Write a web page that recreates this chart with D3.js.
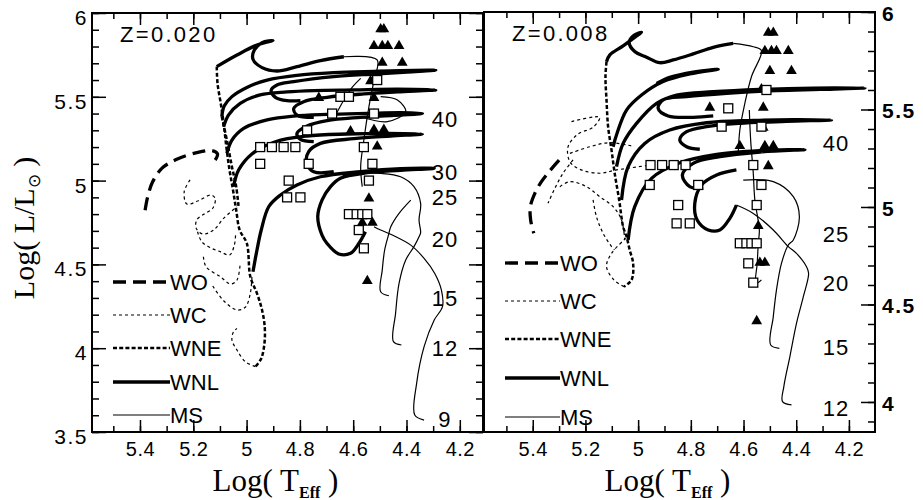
<!DOCTYPE html>
<html>
<head>
<meta charset="utf-8">
<script src="https://cdn.jsdelivr.net/npm/d3@7"></script>
<style>
  body { margin: 0; background: #fff; }
  svg { display: block; }
</style>
</head>
<body>
<div id="chart"></div>
<script>
// ---------- data (log Teff, log L/Lsun) ----------
const xTickLabels = [5.4, 5.2, 5.0, 4.8, 4.6, 4.4, 4.2];
const yTickLabelsLeft = [3.5, 4, 4.5, 5, 5.5, 6];
const yTickLabelsRight = [4, 4.5, 5, 5.5, 6];
const legendNames = ["WO", "WC", "WNE", "WNL", "MS"];

const massLabelsZ020 = ["40", "30", "25", "20", "15", "12", "9"];
const massLumZ020 = [5.37, 5.05, 4.90, 4.65, 4.30, 4.00, 3.58];
const massLabelsZ008 = ["40", "25", "20", "15", "12"];
const massLumZ008 = [5.33, 4.86, 4.61, 4.28, 3.97];

// Z = 0.020 tracks
const z020_WNL_1 = [[5.112,5.68],[5.036,5.749],[4.961,5.809],[4.901,5.835],[4.942,5.823],[4.971,5.779],[4.976,5.724],[4.942,5.674],[4.886,5.654],[4.811,5.68],[4.723,5.716],[4.635,5.739]];
const z020_MS_1 = [[4.635,5.739],[4.51,5.72],[4.522,5.60],[4.541,5.441],[4.56,5.242],[4.572,5.083],[4.566,4.964]];
const z020_WNE_1 = [[5.112,5.68],[5.109,5.58],[5.097,5.461],[5.086,5.342],[5.076,5.202],[5.064,5.063],[5.051,4.944],[5.039,4.825],[5.026,4.705],[4.999,4.625],[4.986,4.427],[4.961,4.327],[4.942,4.228],[4.932,4.128],[4.933,4.029],[4.945,3.939],[4.967,3.89]];
const z020_WC_1 = [[4.967,3.89],[5.005,3.92],[5.036,3.989],[5.055,4.049],[5.049,4.098],[5.036,4.118]];
const z020_WNE_2 = [[5.093,5.381],[5.074,5.242],[5.055,5.083],[5.039,4.964],[5.03,4.844]];
const z020_WNL_2 = [[5.093,5.381],[5.084,5.445],[5.055,5.501],[4.999,5.556],[4.923,5.60],[4.811,5.628],[4.673,5.644],[4.522,5.652],[4.372,5.658],[4.29,5.658],[4.397,5.648],[4.522,5.636],[4.673,5.62],[4.823,5.59],[4.886,5.57],[4.908,5.537],[4.892,5.497],[4.848,5.477],[4.798,5.477]];
const z020_WNL_3 = [[5.086,5.322],[5.068,5.391],[5.024,5.461],[4.949,5.511],[4.848,5.529],[4.748,5.537],[4.597,5.541],[4.434,5.545],[4.29,5.541],[4.434,5.529],[4.56,5.517],[4.698,5.497],[4.786,5.471],[4.823,5.431],[4.811,5.391],[4.748,5.377]];
const z020_WNL_4 = [[5.074,5.163],[5.055,5.242],[5.011,5.312],[4.923,5.362],[4.823,5.385],[4.698,5.395],[4.547,5.401],[4.422,5.405],[4.34,5.401],[4.447,5.389],[4.572,5.377],[4.698,5.358],[4.773,5.326],[4.811,5.282],[4.798,5.246],[4.748,5.232]];
const z020_WNL_5 = [[5.049,4.964],[5.03,5.063],[4.98,5.159],[4.892,5.232],[4.773,5.266],[4.622,5.278],[4.472,5.282],[4.34,5.278],[4.459,5.266],[4.597,5.25],[4.723,5.222],[4.767,5.173],[4.775,5.103],[4.748,5.053],[4.673,5.053]];
const z020_WNL_6 = [[4.976,4.456],[4.961,4.586],[4.945,4.705],[4.917,4.844],[4.873,4.914],[4.811,4.974],[4.723,5.023],[4.572,5.053],[4.422,5.071],[4.296,5.073],[4.422,5.061],[4.547,5.047],[4.648,5.014],[4.685,4.964],[4.717,4.884],[4.733,4.785],[4.717,4.675],[4.698,4.625],[4.654,4.562],[4.61,4.566],[4.579,4.625],[4.554,4.695]];
const z020_MS_2 = [[4.666,5.391],[4.635,5.481],[4.604,5.556],[4.572,5.61]];
const z020_MS_3 = [[4.572,5.381],[4.472,5.352],[4.403,5.411],[4.434,5.481],[4.497,5.501]];
const z020_MS_12 = [[4.419,4.019],[4.449,4.039],[4.441,4.208],[4.428,4.387],[4.403,4.526],[4.372,4.606],[4.353,4.665],[4.347,4.69],[4.353,4.765],[4.347,4.864],[4.372,4.964],[4.422,5.023],[4.497,5.043],[4.572,5.043]];
const z020_MS_9 = [[4.334,3.571],[4.369,3.601],[4.362,3.79],[4.334,4.009],[4.296,4.168],[4.265,4.248],[4.269,4.347],[4.294,4.446],[4.334,4.536],[4.384,4.615],[4.453,4.675],[4.497,4.705],[4.522,4.725]];
const z020_MS_15 = [[4.466,4.313],[4.497,4.337],[4.491,4.466],[4.482,4.586],[4.466,4.685],[4.459,4.725],[4.428,4.805],[4.384,4.884]];
const z020_WC_2 = [[5.212,5.004],[5.234,4.934],[5.224,4.86],[5.181,4.88],[5.134,4.914],[5.118,4.894],[5.127,4.835],[5.159,4.801],[5.187,4.765],[5.189,4.715],[5.164,4.681],[5.124,4.705],[5.086,4.775],[5.036,4.844]];
const z020_WC_3 = [[5.184,4.695],[5.168,4.635],[5.131,4.596],[5.099,4.576],[5.064,4.556],[5.046,4.615],[5.041,4.685]];
const z020_WC_4 = [[5.162,4.546],[5.152,4.486],[5.099,4.427],[5.059,4.383],[5.036,4.407],[5.024,4.506]];
const z020_WC_5 = [[5.127,4.371],[5.086,4.283],[5.036,4.228],[5.005,4.244],[4.986,4.327],[4.98,4.427]];
const z020_WO = [[5.118,5.123],[5.109,5.159],[5.13,5.179],[5.187,5.167],[5.262,5.127],[5.318,5.073],[5.352,4.994],[5.371,4.904],[5.381,4.821]];

// Z = 0.020 observed stars
const triZ020T = [4.497,4.485,4.522,4.491,4.47,4.428,4.491,4.416,4.535,4.729,4.522,4.522,4.61,4.522,4.485,4.51,4.541,4.566,4.528,4.547];
const triZ020L = [5.909,5.909,5.809,5.809,5.809,5.809,5.71,5.71,5.60,5.50,5.50,5.40,5.30,5.31,5.31,5.21,4.90,4.755,4.755,4.407];
const sqZ020T = [4.51,4.648,4.616,4.679,4.522,4.773,4.949,4.905,4.861,4.817,4.56,4.949,4.767,4.528,4.842,4.541,4.848,4.798,4.616,4.587,4.566,4.547,4.579,4.56];
const sqZ020L = [5.60,5.50,5.50,5.40,5.40,5.30,5.20,5.20,5.20,5.20,5.20,5.10,5.10,5.10,5.00,5.00,4.90,4.90,4.80,4.80,4.80,4.80,4.705,4.596];

// Z = 0.008 tracks
const z008_WNL_1 = [[5.12,5.745],[5.108,5.779],[5.057,5.826],[5.013,5.87],[4.987,5.896],[5.019,5.877],[5.034,5.843],[5.013,5.797],[4.968,5.768],[4.918,5.74],[4.867,5.754],[4.791,5.785],[4.715,5.819],[4.639,5.839]];
const z008_MS_1 = [[4.639,5.839],[4.563,5.822],[4.532,5.802],[4.57,5.668],[4.595,5.532],[4.614,5.395],[4.62,5.275]];
const z008_WNE_1 = [[5.12,5.745],[5.124,5.668],[5.12,5.549],[5.114,5.412],[5.101,5.292],[5.089,5.173],[5.072,5.036],[5.057,4.899],[5.044,4.848],[5.032,4.779],[5.019,4.711],[5.025,4.626],[5.054,4.591]];
const z008_WC_1 = [[5.054,4.591],[5.092,4.626],[5.12,4.694],[5.101,4.762],[5.047,4.839]];
const z008_WNL_2 = [[5.095,5.309],[5.08,5.378],[5.044,5.497],[4.987,5.574],[4.905,5.643],[4.804,5.682],[4.696,5.706],[4.791,5.692],[4.88,5.665],[4.93,5.634]];
const z008_WNL_3 = [[5.082,5.207],[5.057,5.326],[5.006,5.429],[4.93,5.532],[4.854,5.574],[4.715,5.591],[4.538,5.603],[4.335,5.61],[4.139,5.61],[4.31,5.603],[4.475,5.597],[4.664,5.583],[4.816,5.566],[4.905,5.549],[4.924,5.506],[4.886,5.467],[4.791,5.46],[4.715,5.467]];
const z008_WNL_4 = [[5.063,5.036],[5.038,5.207],[4.975,5.326],[4.88,5.395],[4.74,5.432],[4.563,5.444],[4.411,5.448],[4.266,5.446],[4.437,5.439],[4.614,5.429],[4.74,5.412],[4.816,5.386],[4.842,5.344],[4.816,5.309],[4.766,5.296]];
const z008_WNL_5 = [[5.038,4.831],[5.013,5.002],[4.949,5.147],[4.842,5.227],[4.702,5.27],[4.538,5.289],[4.367,5.294],[4.538,5.282],[4.69,5.258],[4.791,5.224],[4.832,5.164],[4.804,5.104],[4.753,5.096]];
const z008_WNL_6 = [[4.627,5.19],[4.702,5.164],[4.759,5.113],[4.785,5.019],[4.776,4.933],[4.734,4.882],[4.69,4.882],[4.652,4.942],[4.627,5.01]];
const z008_MS_12 = [[4.627,5.01],[4.563,4.967],[4.487,4.882],[4.43,4.797],[4.399,4.762],[4.361,4.694],[4.353,4.66],[4.373,4.54],[4.399,4.403],[4.424,4.233],[4.447,4.079],[4.452,4.002],[4.418,3.985]];
const z008_MS_15 = [[4.601,5.138],[4.487,5.13],[4.411,5.053],[4.388,4.95],[4.411,4.831],[4.43,4.805],[4.456,4.711],[4.475,4.574],[4.487,4.438],[4.497,4.292],[4.464,4.275]];
const z008_MS_20 = [[4.532,4.626],[4.553,4.608],[4.548,4.711],[4.544,4.814],[4.54,4.882],[4.557,5.036],[4.563,5.173],[4.573,5.344],[4.578,5.497]];
const z008_WC_2 = [[5.253,5.438],[5.146,5.46],[5.171,5.409],[5.228,5.374],[5.266,5.309],[5.259,5.232],[5.221,5.193],[5.146,5.173],[5.082,5.19],[4.968,5.212]];
const z008_WC_3 = [[5.259,5.275],[5.183,5.309],[5.108,5.33],[5.025,5.313]];
const z008_WC_4 = [[5.297,5.104],[5.259,5.13],[5.196,5.104],[5.146,5.053],[5.095,5.002],[5.063,4.933],[5.051,4.831]];
const z008_WC_5 = [[5.171,5.036],[5.158,4.95],[5.133,4.865],[5.101,4.797],[5.09,4.78]];
const z008_WC_6 = [[5.247,5.241],[5.285,5.173],[5.316,5.096],[5.342,5.019]];
const z008_WO = [[5.30,5.24],[5.338,5.181],[5.367,5.13],[5.392,5.07],[5.409,5.002],[5.408,4.933],[5.396,4.865]];

// Z = 0.008 observed stars
const triZ008T = [4.506,4.487,4.519,4.494,4.475,4.43,4.50,4.418,4.532,4.728,4.525,4.525,4.614,4.519,4.487,4.506,4.544,4.538,4.519,4.55];
const triZ008L = [5.899,5.899,5.805,5.805,5.805,5.805,5.703,5.703,5.609,5.515,5.515,5.412,5.318,5.318,5.318,5.215,4.908,4.72,4.72,4.42];
const sqZ008T = [4.513,4.658,4.683,4.532,4.953,4.909,4.865,4.82,4.563,4.956,4.772,4.532,4.848,4.55,4.854,4.804,4.614,4.589,4.57,4.55,4.582,4.563];
const sqZ008L = [5.60,5.506,5.412,5.412,5.215,5.215,5.215,5.215,5.215,5.113,5.113,5.113,5.01,5.01,4.916,4.916,4.814,4.814,4.814,4.814,4.711,4.612];

// ---------- layout ----------
const W = 923, H = 500;
const sans = "'Liberation Sans', Arial, Helvetica, sans-serif";
const serif = "'Liberation Serif', 'Times New Roman', serif";

const phaseStyle = {
  WO:  {w: 3.3, dash: "13,7"},
  WC:  {w: 1.2, dash: "3,3"},
  WNE: {w: 2.5, dash: "4,2.2"},
  WNL: {w: 3.3, dash: null},
  MS:  {w: 1.2, dash: null}
};

const panels = [
  {
    id: "z020", title: "Z=0.020",
    x: d3.scaleLinear().domain([5.58, 4.113]).range([92, 483]),
    y: d3.scaleLinear().domain([3.5, 6]).range([432, 13]),
    tracks: [
      ["WNL", z020_WNL_1], ["MS", z020_MS_1], ["WNE", z020_WNE_1], ["WC", z020_WC_1],
      ["WNE", z020_WNE_2], ["WNL", z020_WNL_2], ["WNL", z020_WNL_3], ["WNL", z020_WNL_4],
      ["WNL", z020_WNL_5], ["WNL", z020_WNL_6], ["MS", z020_MS_2], ["MS", z020_MS_3],
      ["MS", z020_MS_12], ["MS", z020_MS_9], ["MS", z020_MS_15],
      ["WC", z020_WC_2], ["WC", z020_WC_3], ["WC", z020_WC_4], ["WC", z020_WC_5], ["WO", z020_WO]
    ],
    tri: d3.zip(triZ020T, triZ020L), sq: d3.zip(sqZ020T, sqZ020L),
    masses: d3.zip(massLabelsZ020, massLumZ020), massT: 4.256,
    legendX: [113, 170], legendY: [282, 315, 348, 382, 415]
  },
  {
    id: "z008", title: "Z=0.008",
    x: d3.scaleLinear().domain([5.585, 4.101]).range([484, 875]),
    y: d3.scaleLinear().domain([3.846, 6]).range([432, 12]),
    tracks: [
      ["WNL", z008_WNL_1], ["MS", z008_MS_1], ["WNE", z008_WNE_1], ["WC", z008_WC_1],
      ["WNL", z008_WNL_2], ["WNL", z008_WNL_3], ["WNL", z008_WNL_4], ["WNL", z008_WNL_5],
      ["WNL", z008_WNL_6], ["MS", z008_MS_12], ["MS", z008_MS_15], ["MS", z008_MS_20],
      ["WC", z008_WC_2], ["WC", z008_WC_3], ["WC", z008_WC_4], ["WC", z008_WC_5], ["WC", z008_WC_6],
      ["WO", z008_WO]
    ],
    tri: d3.zip(triZ008T, triZ008L), sq: d3.zip(sqZ008T, sqZ008L),
    masses: d3.zip(massLabelsZ008, massLumZ008), massT: 4.249,
    legendX: [505, 560], legendY: [263, 301, 339, 378, 417]
  }
];

const svg = d3.select("#chart").append("svg")
  .attr("width", W).attr("height", H)
  .style("font-family", sans);

const minorT = d3.range(41, 57).map(v => v / 10);

panels.forEach((p, i) => {
  const [x0, x1] = p.x.range();
  const [yb, yt] = p.y.range();

  svg.append("clipPath").attr("id", "clip-" + p.id)
    .append("rect").attr("x", x0).attr("y", yt).attr("width", x1 - x0).attr("height", yb - yt);

  const g = svg.append("g").attr("clip-path", `url(#clip-${p.id})`);

  const line = d3.line()
    .x(d => p.x(d[0])).y(d => p.y(d[1]))
    .curve(d3.curveCatmullRom.alpha(0.5));

  // evolutionary tracks
  p.tracks.forEach(([phase, pts]) => {
    const s = phaseStyle[phase];
    g.append("path")
      .attr("d", line(pts))
      .attr("fill", "none")
      .attr("stroke", "#000")
      .attr("stroke-width", s.w)
      .attr("stroke-linejoin", "round")
      .attr("stroke-dasharray", s.dash);
  });

  // observed stars: filled triangles and open squares
  g.selectAll(".tri").data(p.tri).enter().append("path")
    .attr("transform", d => `translate(${p.x(d[0])},${p.y(d[1]) + 1})`)
    .attr("d", d3.symbol(d3.symbolTriangle, 50))
    .attr("fill", "#000");

  g.selectAll(".sq").data(p.sq).enter().append("rect")
    .attr("x", d => p.x(d[0]) - 4.5).attr("y", d => p.y(d[1]) - 4.5)
    .attr("width", 9).attr("height", 9)
    .attr("fill", "#fff").attr("stroke", "#000").attr("stroke-width", 1.3);

  // mass labels
  svg.selectAll(".mass-" + p.id).data(p.masses).enter().append("text")
    .attr("x", p.x(p.massT)).attr("y", d => p.y(d[1]))
    .attr("dy", "0.36em")
    .attr("text-anchor", "middle")
    .attr("font-size", 22)
    .attr("letter-spacing", 1)
    .text(d => d[0]);

  // metallicity tag
  svg.append("text")
    .attr("x", x0 + 28).attr("y", yt + 29)
    .attr("font-size", 22)
    .attr("letter-spacing", 2.3)
    .text(p.title);

  // legend
  legendNames.forEach((name, k) => {
    const s = phaseStyle[name];
    svg.append("line")
      .attr("x1", p.legendX[0]).attr("x2", p.legendX[1])
      .attr("y1", p.legendY[k]).attr("y2", p.legendY[k])
      .attr("stroke", "#000").attr("stroke-width", s.w)
      .attr("stroke-dasharray", s.dash);
    svg.append("text")
      .attr("x", p.legendX[1]).attr("y", p.legendY[k])
      .attr("dy", "0.36em")
      .attr("font-size", 22)
      .text(name);
  });

  // bottom axis
  const bottomMinor = d3.axisBottom(p.x).tickValues(minorT.filter(v => v > 4.11 && v < 5.58))
    .tickSize(-6).tickFormat("");
  const bottomMajor = d3.axisBottom(p.x).tickValues(xTickLabels)
    .tickSize(-12).tickPadding(10).tickFormat(d3.format("~g"));
  [bottomMinor, bottomMajor].forEach(ax => {
    const a = svg.append("g").attr("transform", `translate(0,${yb})`).call(ax);
    a.select(".domain").remove();
    a.selectAll("line").attr("stroke-width", 1.5);
    a.selectAll("text").attr("font-family", sans).attr("font-size", 20)
      .attr("letter-spacing", 0.5).attr("fill", "#000");
  });

  // top axis
  [[minorT.filter(v => v > 4.11 && v < 5.58), 6], [xTickLabels, 12]].forEach(([vals, len]) => {
    const a = svg.append("g").attr("transform", `translate(0,${yt})`)
      .call(d3.axisTop(p.x).tickValues(vals).tickSize(-len).tickFormat(""));
    a.select(".domain").remove();
    a.selectAll("line").attr("stroke-width", 1.5);
  });

  const [ylo, yhi] = p.y.domain();
  const minorY = d3.range(35, 61).map(v => v / 10).filter(v => v >= ylo - 1e-6 && v <= yhi + 1e-6);
  const majorY = i === 0 ? yTickLabelsLeft : yTickLabelsRight;

  if (i === 0) {
    // left axis with labels, right side ticks without labels
    [[minorY, 7, ""], [majorY, 14, d3.format("~g")]].forEach(([vals, len, fmt]) => {
      const a = svg.append("g").attr("transform", `translate(${x0},0)`)
        .call(d3.axisLeft(p.y).tickValues(vals).tickSize(-len).tickPadding(4).tickFormat(fmt));
      a.select(".domain").remove();
      a.selectAll("line").attr("stroke-width", 1.5);
      a.selectAll("text").attr("font-family", sans).attr("font-size", 21)
        .attr("letter-spacing", 1.5).attr("fill", "#000").attr("dy", "0.55em");
      const b = svg.append("g").attr("transform", `translate(${x1},0)`)
        .call(d3.axisRight(p.y).tickValues(vals).tickSize(-len).tickFormat(""));
      b.select(".domain").remove();
      b.selectAll("line").attr("stroke-width", 1.5);
    });
  } else {
    [[minorY, 7, ""], [majorY, 14, d3.format("~g")]].forEach(([vals, len, fmt]) => {
      const a = svg.append("g").attr("transform", `translate(${x1},0)`)
        .call(d3.axisRight(p.y).tickValues(vals).tickSize(-len).tickPadding(7).tickFormat(fmt));
      a.select(".domain").remove();
      a.selectAll("line").attr("stroke-width", 1.5);
      a.selectAll("text").attr("font-family", sans).attr("font-size", 21)
        .attr("font-weight", "bold").attr("letter-spacing", 1.5)
        .attr("fill", "#000").attr("dy", "0.4em");
    });
  }

  // frame
  svg.append("rect")
    .attr("x", x0).attr("y", yt).attr("width", x1 - x0).attr("height", yb - yt)
    .attr("fill", "none").attr("stroke", "#000").attr("stroke-width", 2);

  // x title
  const xt = svg.append("text")
    .attr("x", (x0 + x1) / 2 - 12).attr("y", 491)
    .attr("text-anchor", "middle")
    .attr("font-family", serif).attr("font-size", 31);
  xt.append("tspan").text("Log( T");
  xt.append("tspan").attr("font-size", 16).attr("font-weight", "bold").attr("dy", 7).text("Eff");
  xt.append("tspan").attr("dy", -7).text(" )");
});

// y title
const yt = svg.append("text")
  .attr("transform", "translate(34,228) rotate(-90)")
  .attr("text-anchor", "middle")
  .attr("font-family", serif).attr("font-size", 30);
yt.append("tspan").text("Log( L/L");
yt.append("tspan").attr("font-size", 17).attr("dy", 6).text("\u2299");
yt.append("tspan").attr("dy", -6).text(" )");
</script>
</body>
</html>
